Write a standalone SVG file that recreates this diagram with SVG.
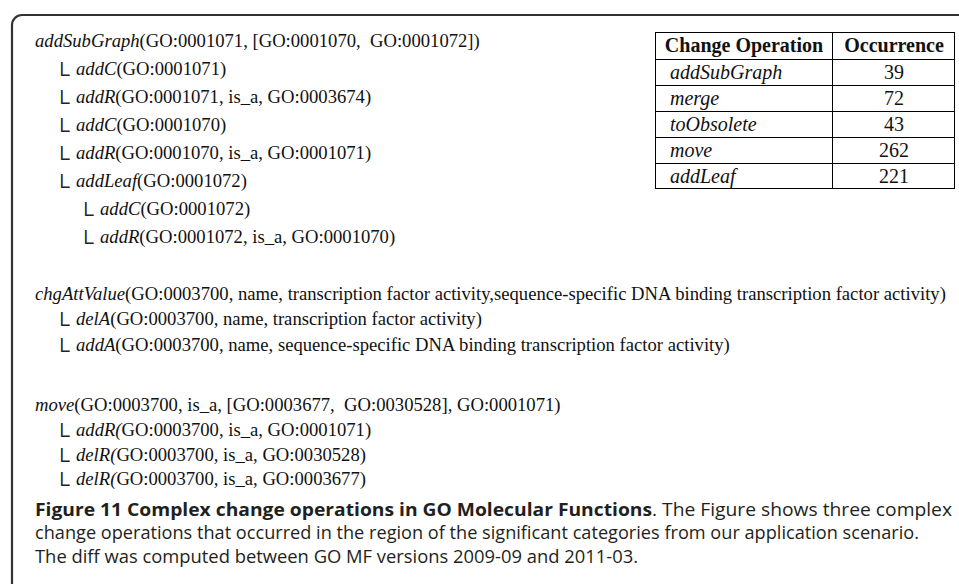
<svg xmlns="http://www.w3.org/2000/svg" width="959" height="584" viewBox="0 0 959 584">
<style>
.t{font-family:"Liberation Serif","Times New Roman",serif;font-size:18.65px;fill:#111}
.i{font-style:italic}
.b{font-family:"DejaVu Sans","Liberation Sans",sans-serif;font-weight:200;font-size:22px;fill:#222}
.tb{font-family:"Liberation Serif","Times New Roman",serif;font-size:20px;fill:#111}
.cap{font-family:"Open Sans","Noto Sans",sans-serif;font-size:18px;fill:#231f20}
.ln{stroke:#000;stroke-width:1;fill:none}
</style>
<rect width="959" height="584" fill="#fff"/>
<path d="M12,584 V25 A10,10 0 0 1 22,15 H959" fill="none" stroke="#333" stroke-width="2.2"/>

<g id="block-addSubGraph">
<text class="t" x="35" y="47"><tspan class="i">addSubGraph</tspan>(GO:0001071, [GO:0001070,&#160; GO:0001072])</text>
<text class="b" x="54" y="82.3">└</text><text class="t" x="76" y="75"><tspan class="i">addC</tspan>(GO:0001071)</text>
<text class="b" x="54" y="110.3">└</text><text class="t" x="76" y="103"><tspan class="i">addR</tspan>(GO:0001071, is_a, GO:0003674)</text>
<text class="b" x="54" y="138.3">└</text><text class="t" x="76" y="131"><tspan class="i">addC</tspan>(GO:0001070)</text>
<text class="b" x="54" y="166.3">└</text><text class="t" x="76" y="159"><tspan class="i">addR</tspan>(GO:0001070, is_a, GO:0001071)</text>
<text class="b" x="54" y="194.3">└</text><text class="t" x="76" y="187"><tspan class="i">addLeaf</tspan>(GO:0001072)</text>
<text class="b" x="78" y="222.3">└</text><text class="t" x="100" y="215"><tspan class="i">addC</tspan>(GO:0001072)</text>
<text class="b" x="78" y="250.3">└</text><text class="t" x="100" y="243"><tspan class="i">addR</tspan>(GO:0001072, is_a, GO:0001070)</text>
</g>

<g id="block-chgAttValue">
<text class="t" x="35" y="300"><tspan class="i">chgAttValue</tspan>(GO:0003700, name, transcription factor activity,sequence-specific DNA binding transcription factor activity)</text>
<text class="b" x="54" y="332.3">└</text><text class="t" x="76" y="325"><tspan class="i">delA</tspan>(GO:0003700, name, transcription factor activity)</text>
<text class="b" x="54" y="358.3">└</text><text class="t" x="76" y="351"><tspan class="i">addA</tspan>(GO:0003700, name, sequence-specific DNA binding transcription factor activity)</text>
</g>

<g id="block-move">
<text class="t" x="35" y="411"><tspan class="i">move</tspan>(GO:0003700, is_a, [GO:0003677,&#160; GO:0030528], GO:0001071)</text>
<text class="b" x="54" y="443.3">└</text><text class="t" x="76" y="436"><tspan class="i">addR(</tspan>GO:0003700, is_a, GO:0001071)</text>
<text class="b" x="54" y="468.3">└</text><text class="t" x="76" y="461"><tspan class="i">delR(</tspan>GO:0003700, is_a, GO:0030528)</text>
<text class="b" x="54" y="492.3">└</text><text class="t" x="76" y="485"><tspan class="i">delR(</tspan>GO:0003700, is_a, GO:0003677)</text>
</g>

<g id="table">
<rect class="ln" x="655.5" y="32.5" width="299" height="156"/>
<line class="ln" x1="832.5" y1="32" x2="832.5" y2="189"/>
<line class="ln" x1="655" y1="59.5" x2="955" y2="59.5"/>
<line class="ln" x1="655" y1="85.5" x2="955" y2="85.5"/>
<line class="ln" x1="655" y1="111.5" x2="955" y2="111.5"/>
<line class="ln" x1="655" y1="137.5" x2="955" y2="137.5"/>
<line class="ln" x1="655" y1="163.5" x2="955" y2="163.5"/>
<text class="tb" x="744" y="52" text-anchor="middle" font-weight="bold">Change Operation</text>
<text class="tb" x="894" y="52" text-anchor="middle" font-weight="bold">Occurrence</text>
<text class="tb i" x="670" y="79">addSubGraph</text><text class="tb" x="894" y="79" text-anchor="middle">39</text>
<text class="tb i" x="670" y="105">merge</text><text class="tb" x="894" y="105" text-anchor="middle">72</text>
<text class="tb i" x="670" y="131">toObsolete</text><text class="tb" x="894" y="131" text-anchor="middle">43</text>
<text class="tb i" x="670" y="157">move</text><text class="tb" x="894" y="157" text-anchor="middle">262</text>
<text class="tb i" x="670" y="183">addLeaf</text><text class="tb" x="894" y="183" text-anchor="middle">221</text>
</g>

<g id="caption">
<text class="cap" x="35" y="516" textLength="917" lengthAdjust="spacingAndGlyphs"><tspan font-weight="bold">Figure 11 Complex change operations in GO Molecular Functions</tspan>. The Figure shows three complex</text>
<text class="cap" x="35" y="539" textLength="884" lengthAdjust="spacingAndGlyphs">change operations that occurred in the region of the significant categories from our application scenario.</text>
<text class="cap" x="35" y="563" textLength="603" lengthAdjust="spacingAndGlyphs">The diff was computed between GO MF versions 2009-09 and 2011-03.</text>
</g>
</svg>
